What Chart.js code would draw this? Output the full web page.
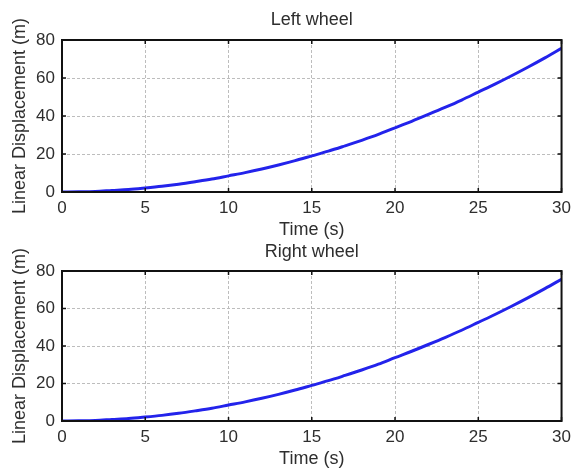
<!DOCTYPE html>
<html>
<head>
<meta charset="utf-8">
<script src="https://cdn.jsdelivr.net/npm/chart.js@4/dist/chart.umd.min.js"></script>
<style>
  html, body { margin: 0; padding: 0; background: #fff; }
  #wrap { position: relative; width: 579px; height: 474px; overflow: hidden; }
  #c1 { position: absolute; left: 0; top: 0; }
  #c2 { position: absolute; left: 0; top: 240px; }
</style>
</head>
<body>
<div id="wrap">
  <canvas id="c1" width="579" height="240"></canvas>
  <canvas id="c2" width="579" height="234"></canvas>
</div>
<script>
// ---- data ----
const timeS = [0,1,2,3,4,5,6,7,8,9,10,11,12,13,14,15,16,17,18,19,20,21,22,23,24,25,26,27,28,29,30];
const leftWheel = [0,0.1,0.3,0.8,1.3,2.1,3.0,4.1,5.4,6.8,8.5,10.2,12.1,14.2,16.5,19.0,21.5,24.3,27.2,30.3,33.8,37.2,40.8,44.5,48.4,52.6,56.8,61.2,65.8,70.6,75.6];
const rightWheel = [0,0.1,0.3,0.8,1.3,2.1,3.0,4.1,5.4,6.8,8.5,10.2,12.1,14.2,16.5,19.0,21.5,24.3,27.2,30.3,33.8,37.2,40.8,44.5,48.4,52.6,56.8,61.2,65.8,70.6,75.6];
const xTicks = [0,5,10,15,20,25,30];
const yTicks = [0,20,40,60,80];
const titles = ['Left wheel', 'Right wheel'];
const xLabel = 'Time (s)';
const yLabel = 'Linear Displacement (m)';

const FONT = '"Liberation Sans", Arial, Helvetica, sans-serif';
const TXT = '#2e2e2e';

// frame + inward tick marks (MATLAB style)
const framePlugin = {
  id: 'frame',
  afterDatasetsDraw(chart) {
    const {ctx, chartArea: a, scales: {x, y}} = chart;
    ctx.save();
    ctx.strokeStyle = '#111';
    ctx.lineWidth = 1.5;
    const L = 4;
    ctx.beginPath();
    xTicks.forEach(v => {
      const px = x.getPixelForValue(v);
      ctx.moveTo(px, a.bottom); ctx.lineTo(px, a.bottom - L);
      ctx.moveTo(px, a.top); ctx.lineTo(px, a.top + L);
    });
    yTicks.forEach(v => {
      const py = y.getPixelForValue(v);
      ctx.moveTo(a.left, py); ctx.lineTo(a.left + L, py);
      ctx.moveTo(a.right, py); ctx.lineTo(a.right - L, py);
    });
    ctx.stroke();
    ctx.lineWidth = 2;
    ctx.strokeRect(a.left, a.top, a.right - a.left, a.bottom - a.top);
    ctx.restore();
  }
};

function makeChart(id, title, values, cfg) {
  return new Chart(document.getElementById(id), {
    type: 'line',
    data: {
      datasets: [{
        data: timeS.map((t, i) => ({x: t, y: values[i]})),
        borderColor: 'rgb(35,35,235)',
        borderWidth: 3,
        pointRadius: 0,
        cubicInterpolationMode: 'monotone',
        fill: false
      }]
    },
    options: {
      responsive: false,
      animation: false,
      layout: { padding: { left: 0, right: 13, top: 0, bottom: 0 } },
      plugins: {
        legend: { display: false },
        tooltip: { enabled: false },
        title: {
          display: true, text: title, color: TXT, fullSize: false,
          font: { family: FONT, size: 18, weight: 'normal', lineHeight: 1.2 },
          padding: cfg.titlePad
        }
      },
      scales: {
        x: {
          type: 'linear', min: 0, max: 30,
          afterBuildTicks: s => { s.ticks = xTicks.map(v => ({value: v})); },
          afterFit: s => { s.height = cfg.xHeight; },
          ticks: { color: TXT, padding: 8, maxRotation: 0, font: { family: FONT, size: 17, lineHeight: 1 } },
          grid: { color: '#bdbdbd', lineWidth: 1, drawTicks: false },
          border: { display: false, dash: [3, 2] },
          title: { display: true, text: xLabel, color: TXT, padding: { top: 0, bottom: cfg.xTitleBottom },
                   font: { family: FONT, size: 18, lineHeight: 1 } }
        },
        y: {
          type: 'linear', min: 0, max: 80,
          afterBuildTicks: s => { s.ticks = yTicks.map(v => ({value: v})); },
          afterFit: s => { s.width = 62; },
          ticks: { color: TXT, padding: 7, font: { family: FONT, size: 17, lineHeight: 1 } },
          grid: { color: '#bdbdbd', lineWidth: 1, drawTicks: false },
          border: { display: false, dash: [3, 2] },
          title: { display: true, text: yLabel, color: TXT, padding: { top: 11, bottom: 0 },
                   font: { family: FONT, size: 18, lineHeight: 1 } }
        }
      }
    },
    plugins: [framePlugin]
  });
}

makeChart('c1', titles[0], leftWheel, { titlePad: {top: 9, bottom: 9.4}, xHeight: 48, xTitleBottom: 1 });
makeChart('c2', titles[1], rightWheel, { titlePad: {top: 1.7, bottom: 7.7}, xHeight: 53, xTitleBottom: 6 });
</script>
</body>
</html>
